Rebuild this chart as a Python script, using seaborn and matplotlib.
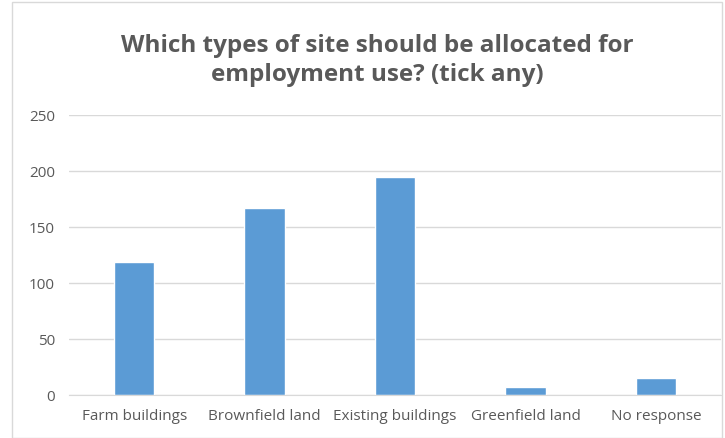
import pandas as pd
import matplotlib.pyplot as plt
import seaborn as sns
from matplotlib.patches import Rectangle

categories = ['Farm buildings', 'Brownfield land', 'Existing buildings', 'Greenfield land', 'No response']
counts = [119, 167, 195, 7, 15]
yticks = [0, 50, 100, 150, 200, 250]

df = pd.DataFrame({'site': categories, 'count': counts})

sns.set_style('white')
plt.rcParams['font.family'] = ['Open Sans', 'DejaVu Sans']

fig = plt.figure(figsize=(7.25, 4.38), dpi=100)
ax = fig.add_axes([0.095, 0.098, 0.9, 0.639])

sns.barplot(data=df, x='site', y='count', color='#5b9bd5', width=0.31, saturation=1, ax=ax)

ax.set_ylim(0, 250)
ax.set_yticks(yticks)
ax.yaxis.grid(True, color='#d9d9d9', linewidth=1)
ax.set_axisbelow(True)
for s in ['top', 'right', 'left']:
    ax.spines[s].set_visible(False)
ax.spines['bottom'].set_color('#d9d9d9')
ax.tick_params(axis='both', length=0, labelsize=11, colors='#595959')
ax.tick_params(axis='x', pad=10)
ax.tick_params(axis='y', pad=10)
ax.set_xlabel('')
ax.set_ylabel('')

fig.text(0.52, 0.862, 'Which types of site should be allocated for\nemployment use? (tick any)',
         ha='center', va='center', fontsize=17.5, fontweight='bold', color='#595959', linespacing=1.3)

fig.patches.append(Rectangle((0.016, 0.0), 0.98, 0.995, transform=fig.transFigure,
                             fill=False, edgecolor='#d9d9d9', linewidth=1))

fig.savefig('out.png', dpi=100)
